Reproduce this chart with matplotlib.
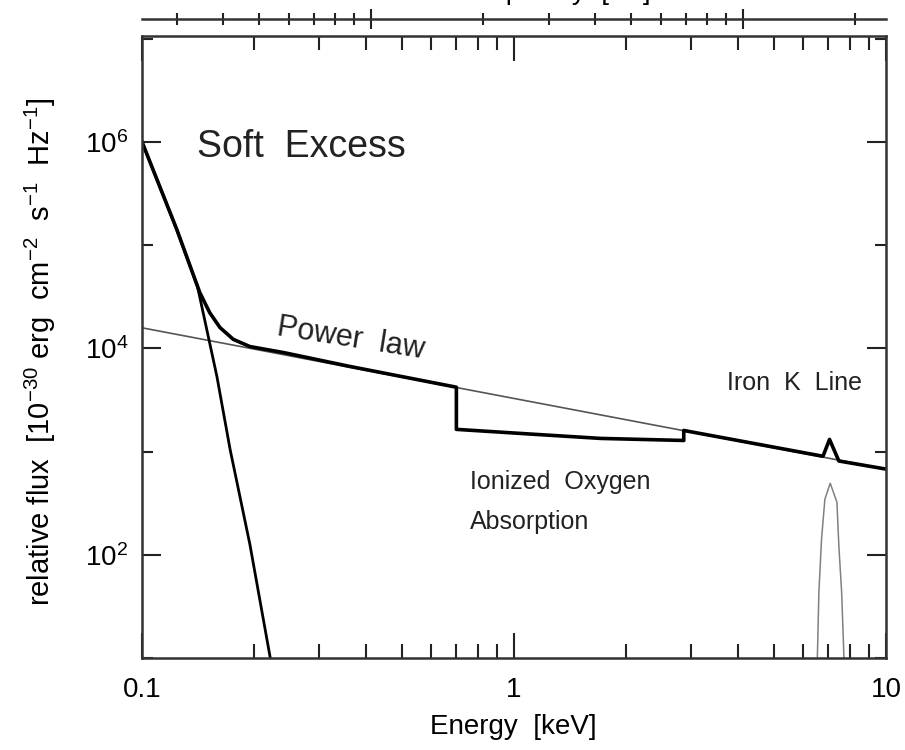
import matplotlib
matplotlib.use("Agg")
import matplotlib.pyplot as plt
from matplotlib import font_manager
from matplotlib.ticker import FixedLocator, FixedFormatter, NullFormatter

# power law continuum (thin line), read at the two ends
pl_E = [0.1, 10.0]
pl_F = [1.58e4, 676]

# soft excess component (steep line)
soft_E = [0.100, 0.124, 0.141, 0.159, 0.1725, 0.195, 0.221, 0.226]
soft_F = [1.0e6, 1.41e5, 3.96e4, 5.33e3, 1.05e3, 126, 10.2, 7]

# total model (thick line) with O edge and Fe K bump
total_E = [0.100, 0.124, 0.143, 0.152, 0.162, 0.176, 0.195, 0.24, 0.36, 0.70,
           0.70, 1.13, 1.71, 2.86, 2.86, 6.77, 7.05, 7.47, 10.0]
total_F = [1.0e6, 1.42e5, 3.47e4, 2.22e4, 1.59e4, 1.22e4, 1.04e4, 9.1e3, 6.7e3, 4.2e3,
           1.64e3, 1.47e3, 1.34e3, 1.28e3, 1.6e3, 900, 1310, 810, 676]

# iron K line profile (thin)
iron_E = [6.50, 6.55, 6.60, 6.71, 6.85, 7.08, 7.38, 7.47, 7.60, 7.69, 7.75]
iron_F = [5, 13, 43, 142, 345, 493, 323, 121, 43, 13, 5]

# ticks
x_major = [0.1, 1, 10]
x_labels = ["0.1", "1", "10"]
x_minor = [0.2, 0.3, 0.4, 0.5, 0.6, 0.7, 0.8, 0.9, 2, 3, 4, 5, 6, 7, 8, 9]
y_major = [1e2, 1e4, 1e6]
y_labels = ["10$^2$", "10$^4$", "10$^6$"]
y_minor = [1e1, 1e3, 1e5, 1e7]
nu_major = [1e17, 1e18]
nu_minor = [3e16, 4e16, 5e16, 6e16, 7e16, 8e16, 9e16,
            2e17, 3e17, 4e17, 5e17, 6e17, 7e17, 8e17, 9e17, 2e18]

names = {f.name for f in font_manager.fontManager.ttflist}
fam = "Liberation Sans Narrow" if "Liberation Sans Narrow" in names else "Liberation Sans"
plt.rcParams["font.family"] = [fam, "DejaVu Sans"]
plt.rcParams["mathtext.fontset"] = "custom"
plt.rcParams["mathtext.rm"] = fam
plt.rcParams["mathtext.it"] = fam
plt.rcParams["mathtext.bf"] = fam

W, H = 905, 750
fig = plt.figure(figsize=(W / 100, H / 100), dpi=100)
ax = fig.add_axes([142 / W, 1 - 658 / H, 744 / W, 622 / H])


def px(x, y):
    return x / W, 1 - y / H


ax.plot(pl_E, pl_F, color="#555555", lw=1.2)
ax.plot(iron_E, iron_F, color="#808080", lw=1.1)
ax.plot(soft_E, soft_F, color="black", lw=2.0)
ax.plot(total_E, total_F, color="black", lw=2.6)

ax.set_xscale("log")
ax.set_yscale("log")
ax.set_xlim(0.1, 10)
ax.set_ylim(10, 1.06e7)

ax.xaxis.set_major_locator(FixedLocator(x_major))
ax.xaxis.set_major_formatter(FixedFormatter(x_labels))
ax.xaxis.set_minor_locator(FixedLocator(x_minor))
ax.xaxis.set_minor_formatter(NullFormatter())
ax.yaxis.set_major_locator(FixedLocator(y_major))
ax.yaxis.set_major_formatter(FixedFormatter(y_labels))
ax.yaxis.set_minor_locator(FixedLocator(y_minor))
ax.yaxis.set_minor_formatter(NullFormatter())

ax.tick_params(which="both", direction="in", top=True, right=True, color="#222222")
ax.tick_params(axis="x", which="major", length=18, width=1.5, pad=14, labelsize=20)
ax.tick_params(axis="x", which="minor", length=10, width=1.5)
ax.tick_params(axis="y", which="major", length=14, width=1.5, pad=10, labelsize=20)
ax.tick_params(axis="y", which="minor", length=8, width=1.5)
for s in ax.spines.values():
    s.set_linewidth(1.8)
    s.set_color("#333333")

# frequency axis above the frame
sec = ax.secondary_xaxis(1 + 17 / 622, functions=(lambda e: e * 2.418e17,
                                                  lambda n: n / 2.418e17))
sec.xaxis.set_major_locator(FixedLocator(nu_major))
sec.xaxis.set_minor_locator(FixedLocator(nu_minor))
sec.xaxis.set_major_formatter(NullFormatter())
sec.xaxis.set_minor_formatter(NullFormatter())
sec.tick_params(which="both", direction="inout", color="#222222")
sec.tick_params(which="major", length=14, width=1.5)
sec.tick_params(which="minor", length=8, width=1.5)
sec.spines["top"].set_linewidth(1.8)
sec.spines["top"].set_color("#333333")

fig.text(*px(197, 147), "Soft  Excess", fontsize=27, ha="left", va="center", color="#222222")
fig.text(*px(351, 339), "Power  law", fontsize=22, ha="center", va="center",
         rotation=-9, color="#222222")
fig.text(*px(727, 383), "Iron  K  Line", fontsize=18, ha="left", va="center", color="#222222")
fig.text(*px(470, 482), "Ionized  Oxygen", fontsize=18, ha="left", va="center", color="#222222")
fig.text(*px(470, 522), "Absorption", fontsize=18, ha="left", va="center", color="#222222")

fig.text(*px(40, 352), r"relative flux  [10$^{-30}$ erg  cm$^{-2}$  s$^{-1}$  Hz$^{-1}$]",
         fontsize=21, rotation=90, ha="center", va="center")
fig.text(*px(513, 727), "Energy  [keV]", fontsize=20, ha="center", va="center")
# label of the top axis, cut off by the upper edge as in the original
fig.text(*px(553, -1), "Frequency  [Hz]", fontsize=20, ha="center", va="baseline")

fig.savefig("out.png", dpi=100)
